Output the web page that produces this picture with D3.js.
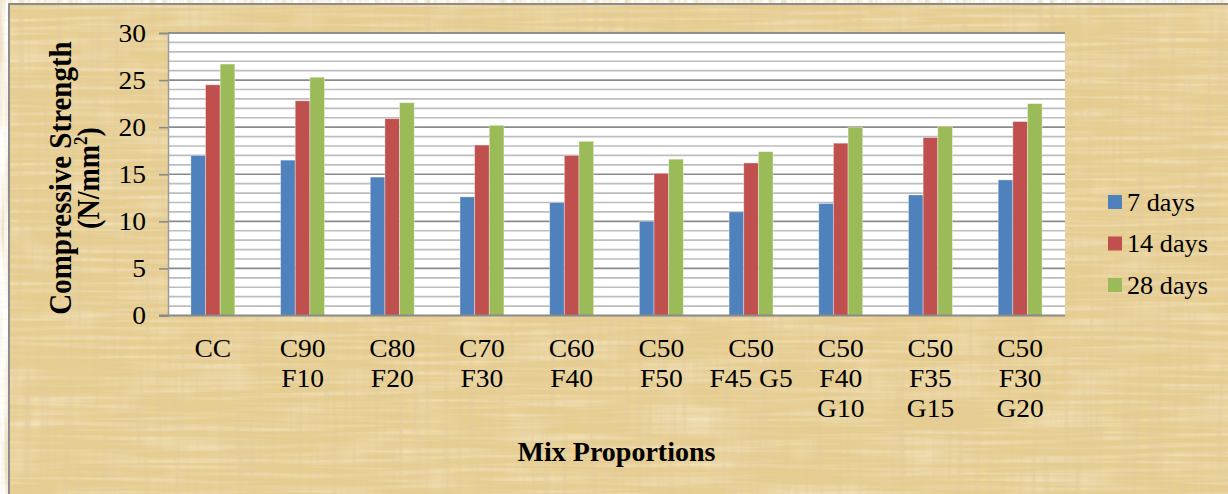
<!DOCTYPE html>
<html>
<head>
<meta charset="utf-8">
<script src="https://cdn.jsdelivr.net/npm/d3@7"></script>
<style>
  html, body { margin: 0; padding: 0; background: #ffffff; overflow: hidden; }
  text { font-family: "Liberation Serif", "Times New Roman", serif; fill: #000; }
</style>
</head>
<body>
<svg id="chart" width="1228" height="494"></svg>
<script>
// Mix proportions (C = cement, F = fly ash, G = GGBS), one line per label row
const categories = [
  ["CC"], ["C90", "F10"], ["C80", "F20"], ["C70", "F30"], ["C60", "F40"],
  ["C50", "F50"], ["C50", "F45 G5"], ["C50", "F40", "G10"], ["C50", "F35", "G15"], ["C50", "F30", "G20"]
];
const seriesNames = ["7 days", "14 days", "28 days"];
const strength7 = [17.0, 16.5, 14.7, 12.6, 12.0, 10.0, 11.0, 11.9, 12.8, 14.4];
const strength14 = [24.5, 22.8, 20.9, 18.1, 17.0, 15.1, 16.2, 18.3, 18.9, 20.6];
const strength28 = [26.7, 25.3, 22.6, 20.2, 18.5, 16.6, 17.4, 20.0, 20.1, 22.5];
const yTicks = [0, 5, 10, 15, 20, 25, 30];
const yMinorTicks = d3.range(0, 31, 1);

const colors = ["#4F81BD", "#C0504D", "#9BBB59"];
const seriesValues = [strength7, strength14, strength28];

const W = 1228, H = 494;
const plot = { left: 168, right: 1065, top: 33, bottom: 315.5 };
const SX = 1.1; // horizontal glyph stretch used for the chart's text

const svg = d3.select("#chart");
const defs = svg.append("defs");

// Parchment texture: vertical fibres, cross-weave and soft tone variation
const f = defs.append("filter").attr("id", "paper")
  .attr("x", 0).attr("y", 0).attr("width", W).attr("height", H)
  .attr("filterUnits", "userSpaceOnUse");
f.append("feTurbulence").attr("type", "fractalNoise").attr("baseFrequency", "0.16 0.008")
  .attr("numOctaves", 3).attr("seed", 4).attr("result", "fib");
f.append("feColorMatrix").attr("in", "fib").attr("type", "matrix")
  .attr("values", "0 0 0 0 0.76  0 0 0 0 0.60  0 0 0 0 0.32  1.5 0 0 0 -0.56").attr("result", "dark");
f.append("feTurbulence").attr("type", "fractalNoise").attr("baseFrequency", "0.008 0.22")
  .attr("numOctaves", 2).attr("seed", 11).attr("result", "fib2");
f.append("feColorMatrix").attr("in", "fib2").attr("type", "matrix")
  .attr("values", "0 0 0 0 0.96  0 0 0 0 0.88  0 0 0 0 0.70  1.2 0 0 0 -0.52").attr("result", "light");
f.append("feTurbulence").attr("type", "fractalNoise").attr("baseFrequency", "0.02 0.03")
  .attr("numOctaves", 2).attr("seed", 2).attr("result", "blot");
f.append("feColorMatrix").attr("in", "blot").attr("type", "matrix")
  .attr("values", "0 0 0 0 0.95  0 0 0 0 0.85  0 0 0 0 0.66  0.9 0 0 0 -0.5").attr("result", "blotc");
const m = f.append("feMerge");
m.append("feMergeNode").attr("in", "blotc");
m.append("feMergeNode").attr("in", "light");
m.append("feMergeNode").attr("in", "dark");

// Chart area background with its frame
svg.append("rect").attr("x", 9).attr("y", 4).attr("width", W).attr("height", H)
  .attr("fill", "#E6CD90");
svg.append("rect").attr("x", 9).attr("y", 4).attr("width", W).attr("height", H)
  .attr("fill", "#E6CD90").attr("filter", "url(#paper)");
svg.append("rect").attr("x", 9).attr("y", 4).attr("width", W + 10).attr("height", H + 10)
  .attr("fill", "none").attr("stroke", "#8C8C8C").attr("stroke-width", 2);

// Scales
const x = d3.scaleBand().domain(d3.range(categories.length))
  .range([plot.left, plot.right]).paddingInner(0).paddingOuter(0);
const y = d3.scaleLinear().domain([0, 30]).range([plot.bottom, plot.top]);
const groupW = x.bandwidth() * 0.49;
const xs = d3.scaleBand().domain(d3.range(seriesNames.length)).range([0, groupW]).padding(0);

// Plot area
svg.append("rect").attr("x", plot.left).attr("y", plot.top)
  .attr("width", plot.right - plot.left).attr("height", plot.bottom - plot.top)
  .attr("fill", "#ffffff");

// Minor and major gridlines
svg.append("g").selectAll("line").data(yMinorTicks.filter(v => v % 5 !== 0)).join("line")
  .attr("x1", plot.left).attr("x2", plot.right)
  .attr("y1", d => y(d)).attr("y2", d => y(d))
  .attr("stroke", "#BDBDBD").attr("stroke-width", 1.6);
svg.append("g").selectAll("line").data(yTicks.filter(v => v > 0)).join("line")
  .attr("x1", plot.left).attr("x2", plot.right)
  .attr("y1", d => y(d)).attr("y2", d => y(d))
  .attr("stroke", "#8A8A8A").attr("stroke-width", 1.6);

// Bars
const groups = svg.append("g").selectAll("g").data(categories.map((c, i) => i)).join("g")
  .attr("transform", i => `translate(${x(i) + (x.bandwidth() - groupW) / 2},0)`);
groups.selectAll("rect").data(i => seriesValues.map((vals, s) => ({ s, v: vals[i] }))).join("rect")
  .attr("x", d => xs(d.s)).attr("width", xs.bandwidth())
  .attr("y", d => y(d.v)).attr("height", d => y(0) - y(d.v))
  .attr("fill", d => colors[d.s])
  .attr("stroke", "rgba(255,255,255,0.45)").attr("stroke-width", 0.8);

// Y axis: tick marks, axis line, labels
const yAxis = d3.axisLeft(y).tickValues(yTicks).tickSize(9).tickFormat("");
const ya = svg.append("g").attr("transform", `translate(${plot.left},0)`).call(yAxis);
ya.select(".domain").attr("stroke", "#9A9A9A").attr("stroke-width", 1.5);
ya.selectAll(".tick line").attr("stroke", "#8A8A8A").attr("stroke-width", 1.6);

function stretchedText(g, tx, ty, str, opts = {}) {
  return g.append("text")
    .attr("transform", `translate(${tx},${ty}) scale(${opts.sx || SX},1)`)
    .attr("text-anchor", opts.anchor || "middle")
    .attr("font-size", opts.size || 25)
    .attr("font-weight", opts.weight || "normal")
    .text(str);
}

const tickLabels = svg.append("g");
yTicks.forEach(v => stretchedText(tickLabels, 146, y(v) + 8.5, String(v), { anchor: "end" }));

// X axis baseline
svg.append("line").attr("x1", plot.left - 9).attr("x2", plot.right)
  .attr("y1", plot.bottom).attr("y2", plot.bottom)
  .attr("stroke", "#8A8A8A").attr("stroke-width", 2);
// Top frame of plot area
svg.append("line").attr("x1", plot.left).attr("x2", plot.right)
  .attr("y1", plot.top).attr("y2", plot.top)
  .attr("stroke", "#8A8A8A").attr("stroke-width", 1.6);

// Category labels
const catG = svg.append("g");
categories.forEach((lines, i) => {
  lines.forEach((ln, k) => {
    stretchedText(catG, x(i) + x.bandwidth() / 2, 357 + k * 30, ln);
  });
});

// Axis titles
stretchedText(svg, (plot.left + plot.right) / 2, 461, "Mix Proportions", { weight: "bold", size: 28, sx: 1.0 });

svg.append("text")
  .attr("transform", `translate(71,178) scale(1.12,1) rotate(-90)`)
  .attr("text-anchor", "middle").attr("font-size", 29).attr("font-weight", "bold")
  .text("Compressive Strength");
const yt2 = svg.append("text")
  .attr("transform", `translate(99,178) scale(1.12,1) rotate(-90)`)
  .attr("text-anchor", "middle").attr("font-size", 28).attr("font-weight", "bold");
yt2.append("tspan").text("(N/mm");
yt2.append("tspan").attr("font-size", 17).attr("dy", -11).text("2");
yt2.append("tspan").attr("dy", 11).text(")");

// Legend
const legend = svg.append("g");
seriesNames.forEach((name, s) => {
  const cy = 202 + s * 41.5;
  legend.append("rect").attr("x", 1108).attr("y", cy - 7).attr("width", 14).attr("height", 14)
    .attr("fill", colors[s]);
  stretchedText(legend, 1127, cy + 8.5, name, { anchor: "start", sx: 1.05, size: 25 });
});
</script>
</body>
</html>
